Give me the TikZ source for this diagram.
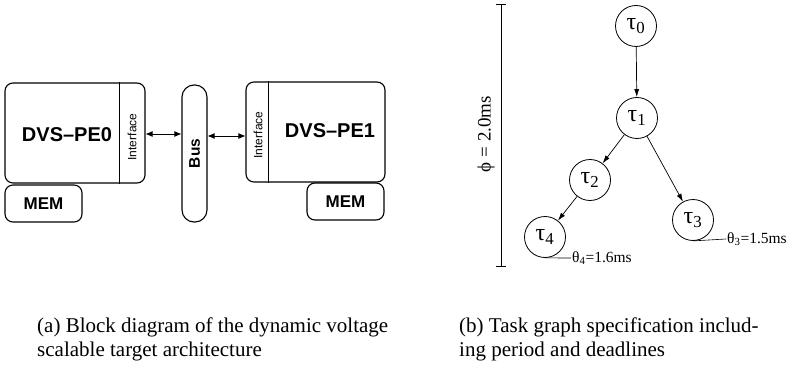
\documentclass[tikz,border=0pt]{standalone}
\usepackage{fontspec}
\setmainfont{Liberation Serif}
\newfontfamily\arial{Liberation Sans}
\usetikzlibrary{arrows.meta}
\begin{document}
\begin{tikzpicture}[x=1pt,y=-1pt,
  blk/.style={draw, line width=1.1pt, rounded corners=8pt, inner sep=0pt},
  lbl/.style={font=\arial\bfseries\fontsize{20}{22}\selectfont},
  memlbl/.style={font=\arial\bfseries\fontsize{17}{18}\selectfont},
  iflbl/.style={rotate=90, font=\arial\fontsize{12}{14}\selectfont},
  dbl/.style={{Latex[length=7pt,width=6pt]}-{Latex[length=7pt,width=6pt]}, line width=0.9pt},
  task/.style={draw, circle, minimum size=41pt, inner sep=0pt, line width=0.8pt, font=\fontsize{24}{26}\selectfont},
  tedge/.style={-{Latex[length=8pt,width=5pt]}, line width=0.7pt},
  smalltxt/.style={font=\fontsize{15.5}{17}\selectfont, inner sep=1pt},
  captxt/.style={font=\fontsize{21}{24}\selectfont, inner sep=0pt, anchor=base west}]
\useasboundingbox (0,0) rectangle (793,369);
% ---- (a) block diagram
\node[blk, minimum width=140pt, minimum height=100pt] (pe0) at (75,133) {};
\draw[line width=1.1pt] ([xshift=-26pt]pe0.north east) -- ([xshift=-26pt]pe0.south east);
\node[iflbl] (if0) at (132,137) {Interface};
\node[lbl] (n0) at (67,135) {DVS–PE0};
\node[blk, minimum width=77pt, minimum height=37pt] (mem0) at (43.5,203.5) {};
\node[memlbl] (m0) at (mem0) {MEM};
\node[blk, rounded corners=12pt, minimum width=25pt, minimum height=137pt] (bus) at (194.5,153.5) {};
\node[rotate=90, font=\arial\bfseries\fontsize{15.5}{16}\selectfont] (bl) at (bus) {Bus};
\node[blk, minimum width=139pt, minimum height=100pt] (pe1) at (315.5,132) {};
\draw[line width=1.1pt] ([xshift=23pt]pe1.north west) -- ([xshift=23pt]pe1.south west);
\node[iflbl] (if1) at (258,135) {Interface};
\node[lbl] (n1) at (330,131) {DVS–PE1};
\node[blk, minimum width=77pt, minimum height=37pt] (mem1) at (345.5,201.5) {};
\node[memlbl] (m1) at (mem1) {MEM};
\draw[dbl] ([yshift=-1pt]pe0.east) -- ([yshift=-1pt]bus.west |- pe0.east);
\draw[dbl] ([yshift=-4pt]bus.east |- pe1.west) -- ([yshift=-4pt]pe1.west);
% ---- (b) task graph
\coordinate (bt) at (501,4);
\coordinate (bb) at (501,266);
\draw[line width=0.6pt] (bt) -- (bb);
\draw[line width=0.6pt] ([xshift=-5pt]bt) -- ([xshift=5pt]bt);
\draw[line width=0.6pt] ([xshift=-5pt]bb) -- ([xshift=5pt]bb);
\node[rotate=90, font=\fontsize{19}{20}\selectfont] (phi) at (486,134) {ϕ = 2.0ms};
\node[task] (t0) at (636,26) {τ\textsubscript{0}};
\node[task] (t1) at (637,118) {τ\textsubscript{1}};
\node[task] (t2) at (590,180) {τ\textsubscript{2}};
\node[task] (t3) at (693,220) {τ\textsubscript{3}};
\node[task] (t4) at (545,237) {τ\textsubscript{4}};
\draw[tedge] (t0) -- (t1);
\draw[tedge] (t1) -- (t2);
\draw[tedge] (t1) -- (t3);
\draw[tedge] (t2) -- (t4);
\coordinate (d3) at (726,239);
\draw[line width=0.6pt] (t3.south) -- (d3);
\node[smalltxt, anchor=west] (l3) at (d3) {θ\textsubscript{3}=1.5ms};
\coordinate (d4) at (571,258);
\draw[line width=0.6pt] (t4.south) -- (d4);
\node[smalltxt, anchor=west] (l4) at (d4) {θ\textsubscript{4}=1.6ms};
% ---- captions
\node[captxt] (ca1) at (37,332) {(a) Block diagram of the dynamic voltage};
\node[captxt] (ca2) at (37,356) {scalable target architecture};
\node[captxt] (cb1) at (459,332) {(b) Task graph specification includ-};
\node[captxt] (cb2) at (459,356) {ing period and deadlines};
\end{tikzpicture}
\end{document}
